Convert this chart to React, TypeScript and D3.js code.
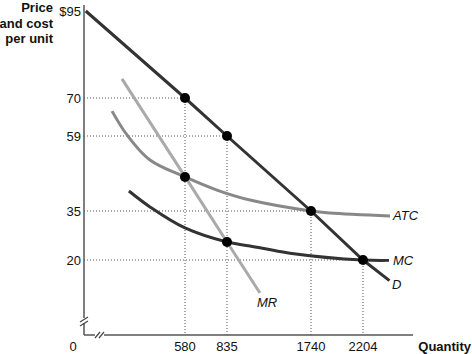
import React from "react";
import * as d3 from "d3";

// Tick values (axes are not drawn to scale: piecewise scales)
const xTicks = [580, 835, 1740, 2204];
const yTicks = [95, 70, 59, 35, 20];

// Curves: [quantity, price]
const demand: [number, number][] = [
  [10, 95], [580, 70], [835, 59], [1740, 35], [2204, 20], [2440, 14.5],
];
const marginalRevenue: [number, number][] = [
  [218, 75.5], [580, 46], [835, 25.5], [1190, 11.2],
];
const atc: [number, number][] = [
  [161, 66.2], [247, 59.3], [379, 51.3], [580, 45.9], [774, 41.7],
  [1083, 38.5], [1740, 35], [1909, 34.4], [2445, 33.5],
];
const mc: [number, number][] = [
  [258, 41.4], [379, 36.3], [580, 29.8], [835, 25.5], [1083, 24.3],
  [1513, 22.1], [2204, 20], [2436, 19.9],
];
const dots: [number, number][] = [
  [580, 70], [835, 59], [580, 45.9], [835, 25.5], [1740, 35], [2204, 20],
];
// dotted guides: [quantity, price]
const guides: [number, number][] = [
  [580, 70], [835, 59], [1740, 35], [2204, 20],
];

const W = 472, H = 354;

export default function App() {
  const x = d3.scaleLinear()
    .domain([0, 580, 835, 1740, 2204, 2650])
    .range([84, 185, 227, 311, 363, 413]);
  const y = d3.scaleLinear()
    .domain([95, 70, 59, 35, 20, 0])
    .range([11, 98, 136, 211, 260, 335]);

  const straight = d3.line<[number, number]>().x(d => x(d[0])).y(d => y(d[1]));
  const smooth = d3.line<[number, number]>()
    .x(d => x(d[0])).y(d => y(d[1]))
    .curve(d3.curveCatmullRom.alpha(0.5));

  const x0 = x(0), y0 = y(0);
  const font = "'Liberation Sans', Arial, Helvetica, sans-serif";

  return (
    <svg width={W} height={H} style={{ position: "absolute", left: 0, top: 0 }}
      fontFamily={font}>
      <rect width={W} height={H} fill="#fff" />
      {/* dotted guides */}
      {guides.map((g, i) => (
        <g key={i} stroke="#555" strokeWidth={1} strokeDasharray="1,2" fill="none">
          <line x1={x0} x2={x(g[0])} y1={y(g[1])} y2={y(g[1])} />
          <line x1={x(g[0])} x2={x(g[0])} y1={y(g[1])} y2={y0} />
        </g>
      ))}
      {/* axes */}
      <line x1={x0} x2={x0} y1={5} y2={y0} stroke="#555" strokeWidth={1.5} />
      <line x1={x0} x2={413} y1={y0} y2={y0} stroke="#555" strokeWidth={1.5} />
      {/* axis breaks */}
      <g stroke="#444" strokeWidth={1.2}>
        <rect x={x0 - 4} y={318} width={8} height={5} fill="#fff" stroke="none" />
        <line x1={x0 - 4} y1={322} x2={x0 + 4} y2={317} />
        <line x1={x0 - 4} y1={326} x2={x0 + 4} y2={321} />
        <rect x={95} y={y0 - 3} width={9} height={6} fill="#fff" stroke="none" />
        <line x1={95} y1={y0 + 3} x2={100} y2={y0 - 3} />
        <line x1={99} y1={y0 + 3} x2={104} y2={y0 - 3} />
      </g>
      {/* curves */}
      <path d={smooth(atc) || ""} fill="none" stroke="#888" strokeWidth={3} />
      <path d={smooth(mc) || ""} fill="none" stroke="#333" strokeWidth={3} />
      <path d={straight(marginalRevenue) || ""} fill="none" stroke="#aaa" strokeWidth={3} />
      <path d={straight(demand) || ""} fill="none" stroke="#333" strokeWidth={3} />
      {dots.map((d, i) => (
        <circle key={i} cx={x(d[0])} cy={y(d[1])} r={5} fill="#000" />
      ))}
      {/* tick labels */}
      {yTicks.map(t => (
        <text key={t} x={81} y={y(t)} dy="0.35em" textAnchor="end" fontSize={13} fill="#111">
          {t === 95 ? "$95" : t}
        </text>
      ))}
      {xTicks.map(t => (
        <text key={t} x={x(t)} y={351} textAnchor="middle" fontSize={13} fill="#111">{t}</text>
      ))}
      <text x={73} y={351} textAnchor="middle" fontSize={13} fill="#111">0</text>
      <text x={471} y={351} textAnchor="end" fontSize={13} fontWeight="bold" fill="#111">Quantity</text>
      <g fontSize={13} fontWeight="bold" textAnchor="end" fill="#111">
        <text x={53} y={12}>Price</text>
        <text x={53} y={28}>and cost</text>
        <text x={53} y={43}>per unit</text>
      </g>
      {/* curve labels */}
      <g fontSize={13} fontStyle="italic" fill="#111">
        <text x={393} y={215} dy="0.35em">ATC</text>
        <text x={393} y={260} dy="0.35em">MC</text>
        <text x={392} y={284} dy="0.35em">D</text>
        <text x={257} y={302} dy="0.35em">MR</text>
      </g>
    </svg>
  );
}
